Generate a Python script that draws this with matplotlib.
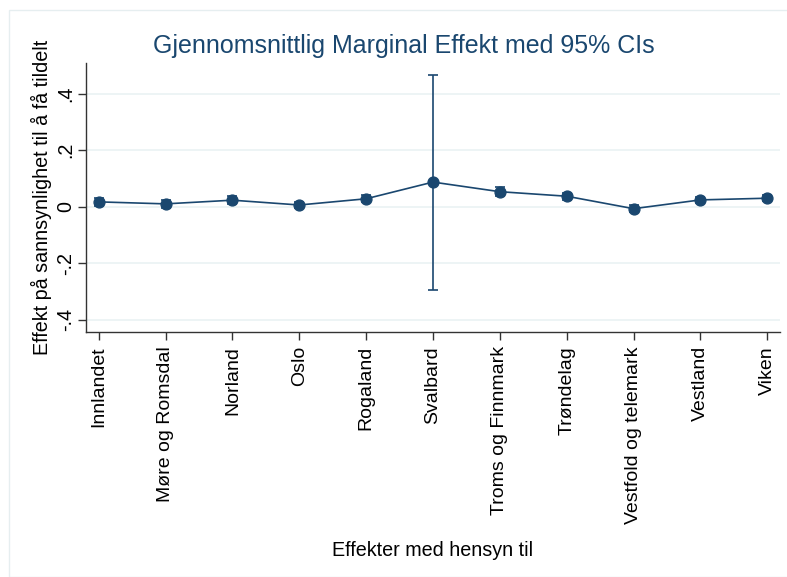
import matplotlib
matplotlib.use("Agg")
import matplotlib.pyplot as plt
from matplotlib.patches import Rectangle

plt.rcParams['font.family'] = ['Liberation Sans', 'DejaVu Sans']

categories = ["Innlandet", "Møre og Romsdal", "Norland", "Oslo", "Rogaland",
              "Svalbard", "Troms og Finnmark", "Trøndelag", "Vestfold og telemark",
              "Vestland", "Viken"]
effects = [0.017, 0.010, 0.023, 0.006, 0.028, 0.087, 0.053, 0.037, -0.007, 0.024, 0.030]
ci_half = [0.013, 0.014, 0.015, 0.012, 0.013, 0.380, 0.016, 0.012, 0.012, 0.012, 0.011]
yticks = [-0.4, -0.2, 0, 0.2, 0.4]
ytick_labels = ["-.4", "-.2", "0", ".2", ".4"]

color = "#1a476f"
W, H = 787, 577
fig = plt.figure(figsize=(W / 100, H / 100), dpi=100)
fig.patch.set_facecolor("white")
fig.add_artist(Rectangle((9 / W, 0), 1, 1 - 10 / H, transform=fig.transFigure,
                         fill=False, edgecolor="#e6eef0", linewidth=1.0))

ax = fig.add_axes([86 / W, 1 - 332.3 / H, (780 - 86) / W, (332.3 - 62.7) / H])
x = list(range(len(categories)))
ax.errorbar(x, effects, yerr=ci_half, color=color, marker="o", markersize=7.8,
            linewidth=1.2, elinewidth=1.2, capsize=3.8, capthick=1.2, zorder=3)

ax.set_xlim(-0.19, 10.19)
ax.set_ylim(-0.444, 0.509)
ax.set_yticks(yticks)
ax.set_yticklabels(ytick_labels, rotation=90, va="center", fontsize=14.2)
ax.set_xticks(x)
ax.set_xticklabels(categories, rotation=90, ha="center", va="top", fontsize=14)
ax.grid(axis="y", color="#eaf2f3", linewidth=1.2)
ax.set_axisbelow(True)
for s in ["top", "right"]:
    ax.spines[s].set_visible(False)
for s in ["left", "bottom"]:
    ax.spines[s].set_color("#333333")
    ax.spines[s].set_linewidth(1.0)
ax.tick_params(axis="both", direction="out", length=6, width=1.0, color="#333333")
ax.tick_params(axis="y", pad=2)
ax.tick_params(axis="x", pad=4)

ax.set_ylabel("Effekt på sannsynlighet til å få tildelt", fontsize=14.2, labelpad=3)
fig.text(433 / W, 1 - 551 / H, "Effekter med hensyn til", ha="center", va="center",
         fontsize=14.2)
fig.text(404 / W, 1 - 46 / H, "Gjennomsnittlig Marginal Effekt med 95% CIs",
         ha="center", va="center", fontsize=18, color=color)

fig.savefig("out.png", dpi=100, facecolor="white")
